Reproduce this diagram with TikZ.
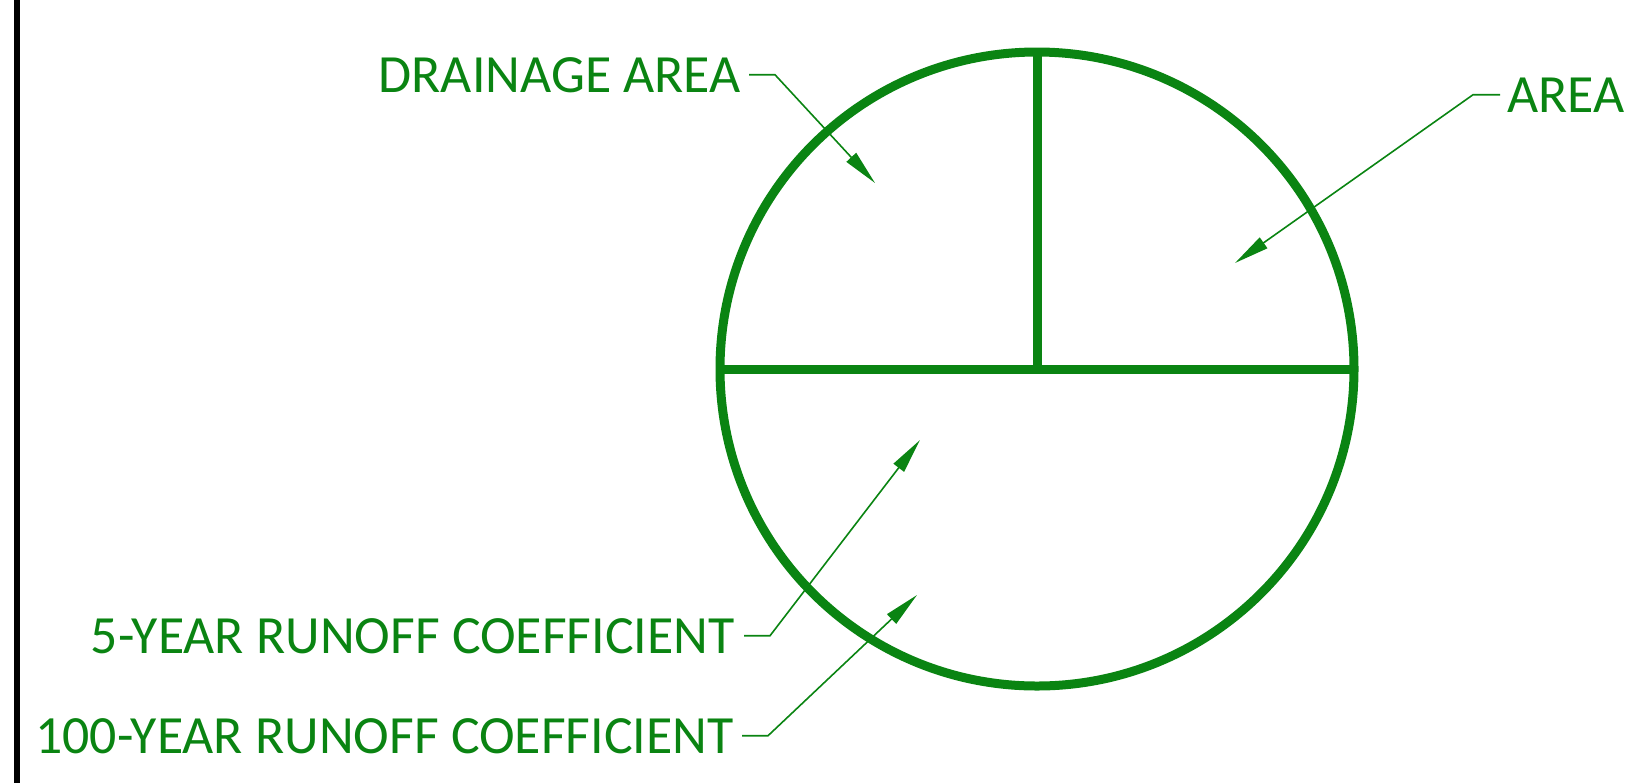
\documentclass[tikz,border=0pt]{standalone}
\usepackage{fontspec}
\setmainfont{Carlito}
\usetikzlibrary{arrows.meta}
\definecolor{verde}{HTML}{0A8412}

\begin{document}
\begin{tikzpicture}[x=0.5pt,y=-0.5pt,
    bordo/.style={line width=4.5pt, verde},
    guida/.style={line width=0.8pt, verde, -{Triangle[length=17.5pt,width=6.5pt]}},
    etichetta/.style={text=verde, inner sep=0pt, font=\fontsize{26.9}{30}\selectfont}]
        \useasboundingbox (0,0) rectangle (1627,783);
        % Barra laterale
        \draw[line width=3pt] (17,0) -- (17,783);
        % Cerchio diviso
        \node[bordo, draw, circle, minimum size=317pt, inner sep=0pt, outer sep=0pt] (disco) at (1037,369) {};
        \draw[bordo] (disco.west) -- (disco.east);
        \draw[bordo] (disco.north) -- (disco.center);
        % Etichette
        \node[etichetta, anchor=base east] (drenaggio) at (741,92) {DRAINAGE AREA};
        \node[etichetta, anchor=base west] (area) at (1507,112) {AREA};
        \node[etichetta, anchor=base east] (cinque) at (735,653) {5-YEAR RUNOFF COEFFICIENT};
        \node[etichetta, anchor=base east] (cento) at (734,753) {100-YEAR RUNOFF COEFFICIENT};
        % Punte delle frecce
        \coordinate (pDren) at (875,183);
        \coordinate (pArea) at (1235,263);
        \coordinate (pCinque) at (920,440);
        \coordinate (pCento) at (917,595);
        % Linee guida
        \draw[guida] ([xshift=4pt]drenaggio.east) -- ++(26,0) -- (pDren);
        \draw[guida] ([xshift=-3.5pt]area.west) -- ++(-27,0) -- (pArea);
        \draw[guida] ([xshift=4.5pt]cinque.east) -- ++(26,0) -- (pCinque);
        \draw[guida] ([xshift=4pt]cento.east) -- ++(26,0) -- (pCento);
    \end{tikzpicture}
\end{document}
